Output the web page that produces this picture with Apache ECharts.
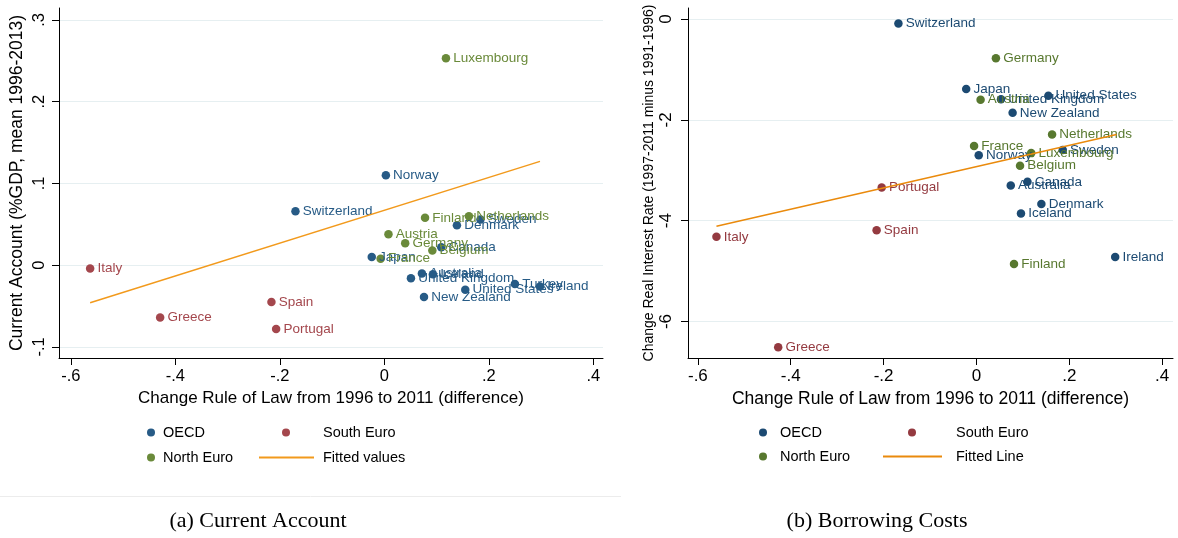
<!DOCTYPE html>
<html>
<head>
<meta charset="utf-8">
<script src="https://cdn.jsdelivr.net/npm/echarts@6/dist/echarts.min.js"></script>
<style>
  html, body { margin: 0; background: #fff; }
  #chart { width: 1178px; height: 538px; }
</style>
</head>
<body>
<div id="chart"></div>
<script>
// panel (a): [country, change in rule of law, current account]
const caOecd = [
  ['Switzerland', -0.170, 0.066], ['Norway', 0.003, 0.110], ['Sweden', 0.184, 0.056],
  ['Denmark', 0.139, 0.049], ['Canada', 0.109, 0.022], ['Japan', -0.024, 0.010],
  ['Australia', 0.072, -0.010], ['Iceland', 0.093, -0.011], ['United Kingdom', 0.051, -0.016],
  ['United States', 0.155, -0.030], ['Turkey', 0.250, -0.023], ['Ireland', 0.298, -0.026],
  ['New Zealand', 0.076, -0.039]
];
const caSouth = [
  ['Italy', -0.563, -0.004], ['Greece', -0.429, -0.064], ['Spain', -0.216, -0.045], ['Portugal', -0.207, -0.078]
];
const caNorth = [
  ['Luxembourg', 0.118, 0.253], ['Finland', 0.078, 0.058], ['Netherlands', 0.162, 0.060],
  ['Austria', 0.008, 0.038], ['Germany', 0.040, 0.027], ['Belgium', 0.092, 0.018], ['France', -0.007, 0.008]
];
const caFit = [[-0.563, -0.046], [0.298, 0.127]];

// panel (b): [country, change in rule of law, change in real interest rate]
const rrOecd = [
  ['Switzerland', -0.168, -0.09], ['Japan', -0.022, -1.39], ['United Kingdom', 0.053, -1.59],
  ['United States', 0.155, -1.52], ['New Zealand', 0.078, -1.86], ['Norway', 0.005, -2.70],
  ['Sweden', 0.186, -2.60], ['Canada', 0.110, -3.23], ['Australia', 0.074, -3.30],
  ['Denmark', 0.140, -3.67], ['Iceland', 0.096, -3.86], ['Ireland', 0.299, -4.72]
];
const rrSouth = [
  ['Portugal', -0.204, -3.34], ['Spain', -0.215, -4.19], ['Italy', -0.560, -4.32], ['Greece', -0.427, -6.51]
];
const rrNorth = [
  ['Germany', 0.042, -0.78], ['Austria', 0.009, -1.60], ['Netherlands', 0.163, -2.29],
  ['France', -0.005, -2.52], ['Luxembourg', 0.118, -2.66], ['Belgium', 0.094, -2.91], ['Finland', 0.081, -4.86]
];
const rrFit = [[-0.560, -4.11], [0.302, -2.29]];

const xTicks = [-0.6, -0.4, -0.2, 0, 0.2, 0.4];
const caTicks = [-0.1, 0, 0.1, 0.2, 0.3];
const rrTicks = [-6, -4, -2, 0];

const colA = { oecd: '#275b86', south: '#a4474d', north: '#6a8a3a', fit: '#f29a1c' };
const colB = { oecd: '#1c4a72', south: '#943a40', north: '#58782f', fit: '#ea8a0c' };

const SANS = 'Liberation Sans, Arial, sans-serif';

// Stata style tick labels: -.6, 0, .2
function stataNum(v) {
  if (v === 0) return '0';
  return String(v).replace('0.', '.');
}

function xAxisOf(grid, min, max, nameSize, labelSize) {
  return {
    gridIndex: grid, type: 'value', min: min, max: max,
    name: 'Change Rule of Law from 1996 to 2011 (difference)',
    nameLocation: 'middle', nameGap: 27,
    nameTextStyle: { fontFamily: SANS, fontSize: nameSize, color: '#000' },
    axisLine: { onZero: false, lineStyle: { color: '#000', width: 1 } },
    axisTick: { customValues: xTicks, length: 7, lineStyle: { color: '#000' } },
    axisLabel: { customValues: xTicks, formatter: stataNum, margin: 10,
      fontFamily: SANS, fontSize: labelSize, color: '#000' },
    splitLine: { show: false }
  };
}

function yAxisOf(grid, min, max, ticks, name, nameSize, nameGap, labelSize, margin) {
  return {
    gridIndex: grid, type: 'value', min: min, max: max,
    name: name, nameLocation: 'middle', nameRotate: 90, nameGap: nameGap,
    nameTextStyle: { fontFamily: SANS, fontSize: nameSize, color: '#000' },
    axisLine: { onZero: false, lineStyle: { color: '#000', width: 1 } },
    axisTick: { customValues: ticks, length: 7, lineStyle: { color: '#000' } },
    axisLabel: { customValues: ticks, formatter: stataNum, rotate: 90, margin: margin,
      fontFamily: SANS, fontSize: labelSize, color: '#000' },
    splitLine: { show: true, lineStyle: { color: '#e6eff1', width: 1 } }
  };
}

function dots(name, rows, color, idx) {
  return {
    name: name, type: 'scatter', xAxisIndex: idx, yAxisIndex: idx,
    symbolSize: 8.5, itemStyle: { color: color, opacity: 1 },
    data: rows.map(r => ({ name: r[0], value: [r[1], r[2]] })),
    label: { show: true, position: 'right', distance: 3, formatter: '{b}',
      fontFamily: SANS, fontSize: 13.5, color: color },
    emphasis: { disabled: true }
  };
}

function fitLine(name, pts, color, idx) {
  return {
    name: name, type: 'line', xAxisIndex: idx, yAxisIndex: idx,
    data: pts, symbol: 'none', lineStyle: { color: color, width: 1.5 },
    itemStyle: { color: color }, emphasis: { disabled: true }
  };
}

function legendItem(name, left, top, color, pad, icon, w, h) {
  return {
    data: [{ name: name, icon: icon, itemStyle: { color: color } }],
    left: left, top: top, itemWidth: w, itemHeight: h, selectedMode: false,
    textStyle: { fontFamily: SANS, fontSize: 14.5, color: '#000', padding: [0, 0, 0, pad] }
  };
}

const chart = echarts.init(document.getElementById('chart'));
chart.setOption({
  animation: false,
  grid: [
    { left: 59, top: 8, width: 544, height: 350 },
    { left: 688, top: 8, width: 485, height: 350 }
  ],
  xAxis: [
    xAxisOf(0, -0.6226, 0.4186, 17, 16.5),
    xAxisOf(1, -0.6213, 0.4235, 17.5, 17)
  ],
  yAxis: [
    yAxisOf(0, -0.1135, 0.3146, caTicks, 'Current Account (%GDP, mean 1996-2013)', 17.5, 33, 16.5, 11),
    yAxisOf(1, -6.724, 0.2186, rrTicks, 'Change Real Interest Rate (1997-2011 minus 1991-1996)', 14, 32, 17, 13)
  ],
  legend: [
    legendItem('OECD', 142, 420, colA.oecd, 3, 'circle', 8, 8),
    legendItem('North Euro', 142, 445, colA.north, 3, 'circle', 8, 8),
    legendItem('South Euro', 277, 420, colA.south, 28, 'circle', 8, 8),
    legendItem('Fitted values', 254, 445, colA.fit, 4, 'rect', 55, 2),
    legendItem('OECD', 754, 420, colB.oecd, 8, 'circle', 8, 8),
    legendItem('North Euro', 754, 444, colB.north, 8, 'circle', 8, 8),
    legendItem('South Euro', 903, 420, colB.south, 35, 'circle', 8, 8),
    legendItem('Fitted Line', 878, 444, colB.fit, 9, 'rect', 59, 2)
  ],
  graphic: [
    { type: 'line', shape: { x1: 0, y1: 496.5, x2: 621, y2: 496.5 },
      style: { stroke: '#ececec', lineWidth: 1 } },
    { type: 'text', x: 258, y: 521,
      style: { text: '(a) Current Account', font: '22px "Liberation Serif", serif',
        fill: '#000', textAlign: 'center', textVerticalAlign: 'middle' } },
    { type: 'text', x: 877, y: 521,
      style: { text: '(b) Borrowing Costs', font: '22px "Liberation Serif", serif',
        fill: '#000', textAlign: 'center', textVerticalAlign: 'middle' } }
  ],
  series: [
    fitLine('Fitted values', caFit, colA.fit, 0),
    dots('OECD', caOecd, colA.oecd, 0),
    dots('South Euro', caSouth, colA.south, 0),
    dots('North Euro', caNorth, colA.north, 0),
    fitLine('Fitted Line', rrFit, colB.fit, 1),
    dots('OECD', rrOecd, colB.oecd, 1),
    dots('South Euro', rrSouth, colB.south, 1),
    dots('North Euro', rrNorth, colB.north, 1)
  ]
});
</script>
</body>
</html>
